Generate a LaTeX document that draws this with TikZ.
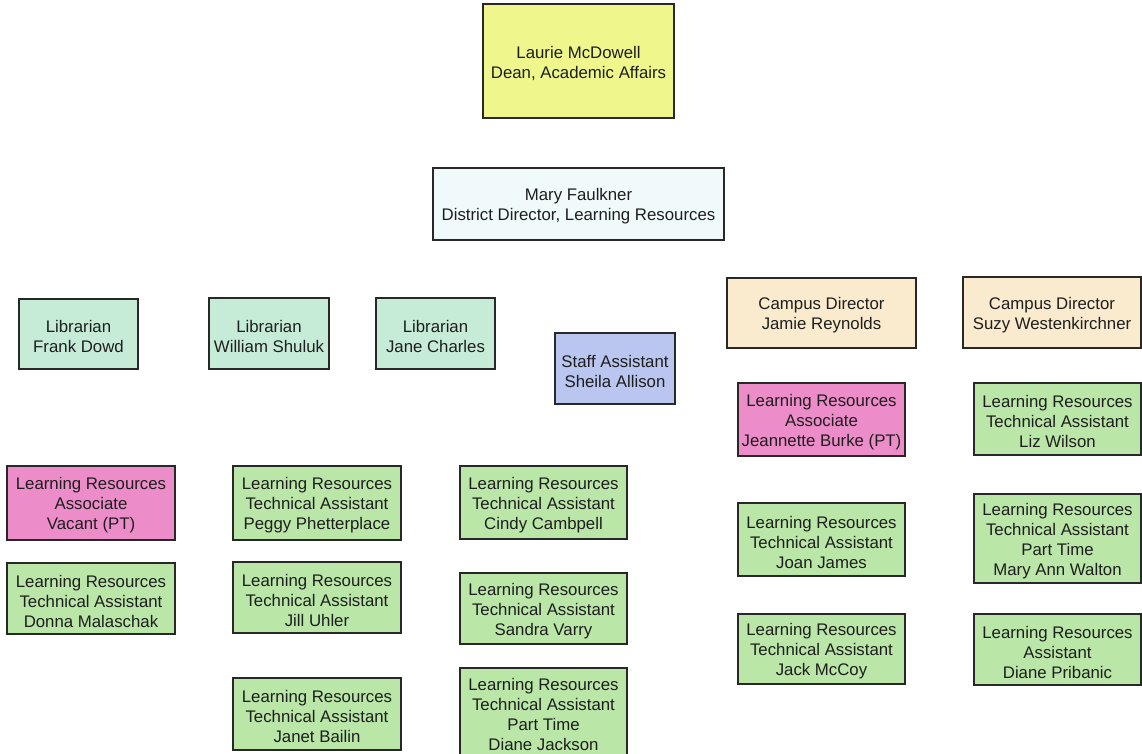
\documentclass[tikz,border=0pt]{standalone}
\usepackage{fontspec}
\setmainfont{Liberation Sans}
\definecolor{cyellow}{RGB}{238,246,140}
\definecolor{cwhite}{RGB}{240,250,250}
\definecolor{cteal}{RGB}{198,236,216}
\definecolor{cblue}{RGB}{186,198,240}
\definecolor{cbeige}{RGB}{250,234,206}
\definecolor{cpink}{RGB}{236,140,200}
\definecolor{cgreen}{RGB}{186,230,168}
\definecolor{cborder}{RGB}{40,40,40}
\definecolor{ctext}{RGB}{30,30,30}
\tikzset{
  orgbox/.style={draw=cborder, line width=1.1pt, rectangle, inner sep=0pt, outer sep=0pt},
  orgtext/.style={inner sep=0pt, align=center, text=ctext, font=\fontsize{16.8}{20}\selectfont},
}
% name, x1, y1, x2, y2, colour, text
\newcommand{\orgnode}[7]{%
  \node[orgbox, fill=#6, minimum width={#4-#2}, minimum height={#5-#3}]
    (#1) at ({(#2+#4)/2},{(#3+#5)/2}) {};
  \node[orgtext] (#1-t) at ([yshift=-2.5pt]#1.center) {#7};}
\begin{document}
\begin{tikzpicture}[x=1pt,y=-1pt]
\useasboundingbox[fill=white] (0,0) rectangle (1142,754);
\orgnode{laurie}{483}{4}{674}{118}{cyellow}{Laurie McDowell\\Dean, Academic Affairs}
\orgnode{mary}{433}{168}{724}{240}{cwhite}{Mary Faulkner\\District Director, Learning Resources}
\orgnode{frank}{19}{299}{138}{369}{cteal}{Librarian\\Frank Dowd}
\orgnode{william}{209}{298}{329}{369}{cteal}{Librarian\\William Shuluk}
\orgnode{jane}{376}{298}{495}{369}{cteal}{Librarian\\Jane Charles}
\orgnode{staff}{555}{333}{675}{404}{cblue}{Staff Assistant\\Sheila Allison}
\orgnode{jamie}{727}{278}{916}{348}{cbeige}{Campus Director\\Jamie Reynolds}
\orgnode{suzy}{963}{277}{1141}{348}{cbeige}{Campus Director\\Suzy Westenkirchner}
\orgnode{jeannette}{738}{383}{905}{456}{cpink}{Learning Resources\\Associate\\Jeannette Burke (PT)}
\orgnode{liz}{974}{383}{1141}{455}{cgreen}{Learning Resources\\Technical Assistant\\Liz Wilson}
\orgnode{vacant}{7}{466}{175}{540}{cpink}{Learning Resources\\Associate\\Vacant (PT)}
\orgnode{donna}{7}{563}{175}{634}{cgreen}{Learning Resources\\Technical Assistant\\Donna Malaschak}
\orgnode{peggy}{233}{466}{401}{540}{cgreen}{Learning Resources\\Technical Assistant\\Peggy Phetterplace}
\orgnode{jill}{233}{562}{401}{633}{cgreen}{Learning Resources\\Technical Assistant\\Jill Uhler}
\orgnode{janet}{233}{678}{401}{750}{cgreen}{Learning Resources\\Technical Assistant\\Janet Bailin}
\orgnode{cindy}{460}{466}{627}{539}{cgreen}{Learning Resources\\Technical Assistant\\Cindy Cambpell}
\orgnode{sandra}{460}{573}{627}{644}{cgreen}{Learning Resources\\Technical Assistant\\Sandra Varry}
\orgnode{dianej}{460}{668}{627}{756}{cgreen}{Learning Resources\\Technical Assistant\\Part Time\\Diane Jackson}
\orgnode{joan}{738}{503}{905}{576}{cgreen}{Learning Resources\\Technical Assistant\\Joan James}
\orgnode{jack}{738}{614}{905}{684}{cgreen}{Learning Resources\\Technical Assistant\\Jack McCoy}
\orgnode{maryann}{974}{494}{1141}{583}{cgreen}{Learning Resources\\Technical Assistant\\Part Time\\Mary Ann Walton}
\orgnode{dianep}{974}{614}{1141}{685}{cgreen}{Learning Resources\\Assistant\\Diane Pribanic}
\end{tikzpicture}
\end{document}
